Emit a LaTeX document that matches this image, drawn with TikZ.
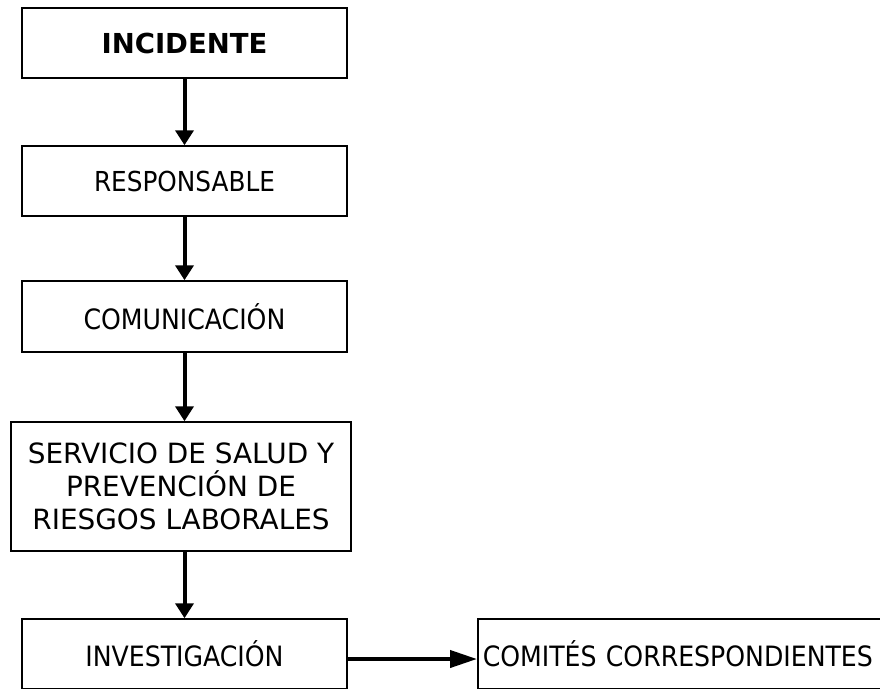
\documentclass[tikz,border=0pt]{standalone}
\usepackage{fontspec}
\setmainfont{DejaVu Sans Condensed}
\newfontfamily\widefont{DejaVu Sans}
\usetikzlibrary{arrows.meta}
\tikzset{
  boxnode/.style={draw, line width=1.5pt, minimum width=325pt, minimum height=70pt, inner sep=0pt, font=\fontsize{28}{33}\selectfont, align=center},
  varr/.style={line width=4pt, -{Triangle[length=15pt,width=18pt]}},
  harr/.style={line width=4pt, -{Triangle[length=27pt,width=17pt]}}
}
\begin{document}
\begin{tikzpicture}[x=1pt,y=-1pt]
\useasboundingbox (0,0) rectangle (880,688);
\node[boxnode, font=\widefont\fontsize{27.5}{33}\selectfont\bfseries] (inc) at (184.5,43) {INCIDENTE};
\node[boxnode, font=\fontsize{27.5}{33}\selectfont] (resp) at (184.5,181) {RESPONSABLE};
\node[boxnode, minimum height=71pt] (com) at (184.5,316.5) {COMUNICACIÓN};
\node[boxnode, minimum width=340pt, minimum height=129pt, font=\widefont\fontsize{27.9}{33}\selectfont] (serv) at (181,486.5) {SERVICIO DE SALUD Y\\PREVENCIÓN DE\\RIESGOS LABORALES};
\node[boxnode] (inv) at (184.5,654) {INVESTIGACIÓN};
\node[boxnode, minimum width=410pt, anchor=west, text width=400pt, align=left] (comi) at (477,654) {COMITÉS CORRESPONDIENTES};
\draw[varr] (inc.south) -- (resp.north);
\draw[varr] (resp.south) -- (com.north);
\draw[varr] (com.south) -- (com.south |- serv.north);
\draw[varr] (com.south |- serv.south) -- (inv.north);
\draw[harr] ([yshift=-5pt]inv.east) -- ([yshift=-5pt]comi.west);
\end{tikzpicture}
\end{document}
